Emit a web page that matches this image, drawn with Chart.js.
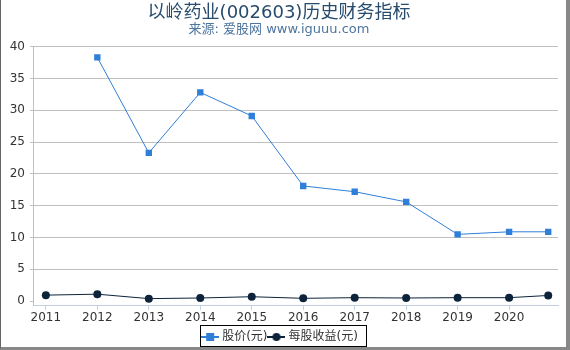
<!DOCTYPE html>
<html>
<head>
<meta charset="utf-8">
<script src="https://cdn.jsdelivr.net/npm/chart.js@4/dist/chart.umd.min.js"></script>
<style>
  body { margin: 0; background: #fff; }
  #wrap { position: relative; width: 570px; height: 350px; }
  #frame {
    position: absolute; left: 0; top: 0; width: 570px; height: 350px; box-sizing: border-box;
    border-left: 1px solid #666; border-right: 4px solid #888; border-bottom: 3px solid #888;
    pointer-events: none;
  }
</style>
</head>
<body>
<div id="wrap">
  <canvas id="grafico" width="570" height="350"></canvas>
  <div id="frame"></div>
</div>
<script>
// Dados do gráfico
const periodos = [2011, 2012, 2013, 2014, 2015, 2016, 2017, 2018, 2019, 2020, 2020.76];
const anosEixo = [2011, 2012, 2013, 2014, 2015, 2016, 2017, 2018, 2019, 2020];
const precoAcao = [null, 38.3, 23.3, 32.8, 29.1, 18.1, 17.2, 15.6, 10.5, 10.9, 10.9];
const lucroPorAcao = [0.95, 1.1, 0.4, 0.5, 0.7, 0.45, 0.55, 0.5, 0.55, 0.55, 0.9];
const ticksY = [0, 5, 10, 15, 20, 25, 30, 35, 40];

const FONTE = "'DejaVu Sans', 'Noto Sans CJK SC', sans-serif";
const COR_PRECO = '#2f7ed8';
const COR_LUCRO = '#0d233a';

// Símbolos da legenda (linha + marcador)
function simbolo(cor, forma) {
    const c = document.createElement('canvas');
    c.width = 18; c.height = 10;
    const g = c.getContext('2d');
    g.strokeStyle = cor;
    g.lineWidth = 2;
    g.beginPath(); g.moveTo(0, 5); g.lineTo(18, 5); g.stroke();
    g.fillStyle = cor;
    if (forma === 'rect') {
        g.fillRect(5, 1, 8, 8);
    } else {
        g.beginPath(); g.arc(9, 5, 4, 0, Math.PI * 2); g.fill();
    }
    return c;
}

const pontos = arr => arr.map((v, i) => ({ x: periodos[i], y: v }));

// Ajuste fino da posição da legenda
const DESLOCA_LEGENDA_X = 2;
const DESLOCA_LEGENDA_Y = 3;
const moverLegenda = {
    id: 'moverLegenda',
    afterLayout(chart) {
        const lg = chart.legend;
        lg.top += DESLOCA_LEGENDA_Y; lg.bottom += DESLOCA_LEGENDA_Y;
        lg.left += DESLOCA_LEGENDA_X; lg.right += DESLOCA_LEGENDA_X;
    }
};

// Moldura da legenda
const bordaLegenda = {
    id: 'bordaLegenda',
    afterDraw(chart) {
        const caixas = chart.legend.legendHitBoxes;
        if (!caixas || !caixas.length) return;
        const esq = Math.min(...caixas.map(b => b.left)) - 6 + DESLOCA_LEGENDA_X;
        const dir = Math.max(...caixas.map(b => b.left + b.width)) + 6 + DESLOCA_LEGENDA_X;
        const meio = caixas[0].top + caixas[0].height / 2 + DESLOCA_LEGENDA_Y;
        const ctx = chart.ctx;
        ctx.save();
        ctx.strokeStyle = '#000';
        ctx.lineWidth = 1;
        ctx.strokeRect(Math.round(esq) + 0.5, Math.round(meio - 15) + 0.5, Math.round(dir - esq), 21);
        ctx.restore();
    }
};

const ctx = document.getElementById('grafico').getContext('2d');
new Chart(ctx, {
    type: 'line',
    data: {
        datasets: [
            {
                label: '股价(元)',
                data: pontos(precoAcao),
                borderColor: COR_PRECO,
                backgroundColor: COR_PRECO,
                borderWidth: 1,
                pointStyle: 'rect',
                pointRadius: 4.5,
                pointBorderWidth: 0,
                tension: 0
            },
            {
                label: '每股收益(元)',
                data: pontos(lucroPorAcao),
                borderColor: COR_LUCRO,
                backgroundColor: COR_LUCRO,
                borderWidth: 1,
                pointStyle: 'circle',
                pointRadius: 4,
                pointBorderWidth: 0,
                tension: 0
            }
        ]
    },
    options: {
        responsive: false,
        animation: false,
        layout: { padding: { left: 0, right: 12, top: 0, bottom: 0 } },
        scales: {
            x: {
                type: 'linear',
                min: 2010.75,
                max: 2020.95,
                afterBuildTicks: s => { s.ticks = anosEixo.map(v => ({ value: v })); },
                afterFit: s => { s.height = 20; },
                ticks: {
                    color: '#333',
                    font: { family: FONTE, size: 12 },
                    padding: 1,
                    maxRotation: 0,
                    callback: v => String(v)
                },
                grid: { drawOnChartArea: false, drawTicks: true, tickLength: 5, tickColor: '#c0d0e0' },
                border: { color: '#c0d0e0' }
            },
            y: {
                min: -0.6,
                max: 40,
                afterBuildTicks: s => { s.ticks = ticksY.map(v => ({ value: v })); },
                afterFit: s => { s.width = 33; },
                ticks: {
                    color: '#333',
                    font: { family: FONTE, size: 12 },
                    padding: 5
                },
                grid: {
                    color: c => (c.tick && c.tick.value === 0 ? 'rgba(0,0,0,0)' : '#c0c0c0'),
                    tickColor: '#c0c0c0',
                    tickLength: 3
                },
                border: { color: '#c0c0c0' }
            }
        },
        plugins: {
            title: {
                display: true,
                text: '以岭药业(002603)历史财务指标',
                color: '#274b6d',
                font: { family: FONTE, size: 18, weight: 'normal', lineHeight: 1 },
                padding: { top: 4, bottom: 0 }
            },
            subtitle: {
                display: true,
                text: '来源: 爱股网 www.iguuu.com',
                color: '#4d759e',
                font: { family: FONTE, size: 13 },
                padding: { top: 0, bottom: 9 }
            },
            legend: {
                position: 'bottom',
                labels: {
                    color: '#333',
                    font: { family: FONTE, size: 12 },
                    usePointStyle: true,
                    padding: 3,
                    generateLabels: chart => chart.data.datasets.map((d, i) => ({
                        text: d.label,
                        pointStyle: simbolo(d.borderColor, i === 0 ? 'rect' : 'circle'),
                        fillStyle: d.borderColor,
                        strokeStyle: d.borderColor,
                        fontColor: '#333',
                        lineWidth: 0,
                        datasetIndex: i
                    }))
                }
            },
            tooltip: { enabled: false }
        }
    },
    plugins: [moverLegenda, bordaLegenda]
});
</script>
</body>
</html>
